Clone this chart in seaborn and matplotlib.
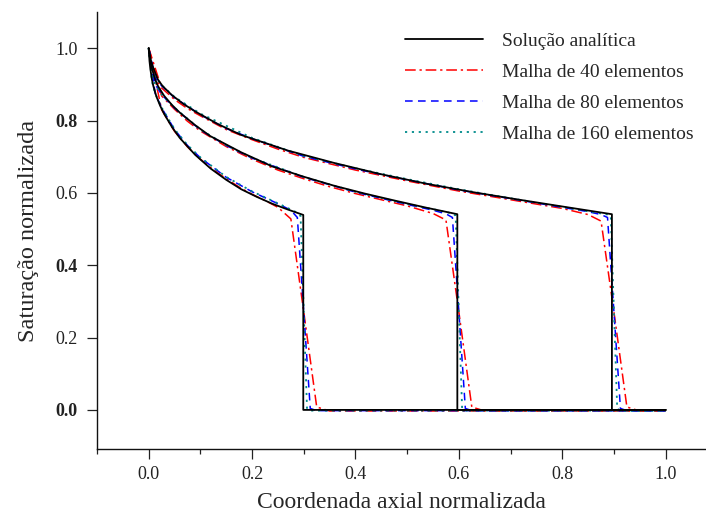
import numpy as np
import pandas as pd
import matplotlib
matplotlib.use("Agg")
import matplotlib.pyplot as plt
import seaborn as sns
from matplotlib.lines import Line2D
from matplotlib.ticker import MultipleLocator

# ---------------- data ----------------
labels = ["Solução analítica", "Malha de 40 elementos",
          "Malha de 80 elementos", "Malha de 160 elementos"]

# Analytical solution, three times (fronts near 0.3, 0.6, 0.9)
ana_A_x = [0, 0.0015, 0.003, 0.006, 0.009, 0.015, 0.0224, 0.03, 0.045, 0.06, 0.09,
           0.12, 0.15, 0.179, 0.209, 0.239, 0.269, 0.299, 0.299, 1.0]
ana_A_s = [1.0, 0.965, 0.945, 0.915, 0.895, 0.866, 0.84, 0.818, 0.782, 0.752, 0.705,
           0.667, 0.636, 0.61, 0.589, 0.570, 0.554, 0.539, 0.0, 0.0]
ana_B_x = [0, 0.003, 0.006, 0.012, 0.018, 0.03, 0.045, 0.06, 0.09, 0.119, 0.179,
           0.239, 0.299, 0.358, 0.418, 0.478, 0.537, 0.597, 0.597, 1.0]
ana_B_s = [1.0, 0.965, 0.945, 0.915, 0.895, 0.868, 0.843, 0.822, 0.787, 0.757, 0.712,
           0.673, 0.645, 0.62, 0.598, 0.578, 0.559, 0.541, 0.0, 0.0]
ana_C_x = [0, 0.0045, 0.009, 0.018, 0.027, 0.045, 0.067, 0.09, 0.134, 0.179, 0.269,
           0.358, 0.448, 0.538, 0.627, 0.717, 0.806, 0.896, 0.896, 1.0]
ana_C_s = [1.0, 0.965, 0.945, 0.913, 0.895, 0.87, 0.846, 0.825, 0.79, 0.76, 0.717,
           0.683, 0.652, 0.625, 0.602, 0.581, 0.561, 0.541, 0.0, 0.0]

# Mesh of 40 elements
m40_A_x = [0, 0.025, 0.05, 0.075, 0.1, 0.125, 0.15, 0.175, 0.2, 0.225, 0.25, 0.275,
           0.3, 0.325, 0.35, 1.0]
m40_A_s = [1.0, 0.83, 0.77, 0.727, 0.693, 0.664, 0.639, 0.616, 0.596, 0.579, 0.56,
           0.528, 0.27, 0.008, -0.003, -0.003]
m40_B_x = [0, 0.025, 0.05, 0.075, 0.1, 0.15, 0.2, 0.25, 0.3, 0.35, 0.4, 0.45, 0.5,
           0.55, 0.575, 0.6, 0.625, 0.65, 1.0]
m40_B_s = [1.0, 0.868, 0.831, 0.798, 0.771, 0.728, 0.693, 0.663, 0.639, 0.617, 0.598,
           0.581, 0.564, 0.543, 0.525, 0.27, 0.008, -0.003, -0.003]
m40_C_x = [0, 0.025, 0.05, 0.075, 0.1, 0.15, 0.2, 0.25, 0.3, 0.4, 0.5, 0.6, 0.7, 0.8,
           0.85, 0.875, 0.9, 0.925, 0.95, 1.0]
m40_C_s = [1.0, 0.89, 0.858, 0.833, 0.813, 0.775, 0.747, 0.721, 0.698, 0.663, 0.633,
           0.605, 0.581, 0.557, 0.54, 0.522, 0.27, 0.008, -0.003, -0.003]

# Mesh of 80 elements
m80_A_x = [0, 0.0125, 0.025, 0.05, 0.075, 0.1, 0.15, 0.2, 0.25, 0.275, 0.2875, 0.3,
           0.3125, 0.325, 1.0]
m80_A_s = [1.0, 0.875, 0.835, 0.775, 0.731, 0.697, 0.643, 0.603, 0.57, 0.552, 0.532,
           0.27, 0.004, -0.002, -0.002]
m80_B_x = [0, 0.0125, 0.025, 0.05, 0.1, 0.15, 0.2, 0.3, 0.4, 0.5, 0.55, 0.575, 0.5875,
           0.6, 0.6125, 0.625, 1.0]
m80_B_s = [1.0, 0.9, 0.872, 0.834, 0.774, 0.731, 0.696, 0.643, 0.602, 0.568, 0.552,
           0.542, 0.532, 0.27, 0.004, -0.002, -0.002]
m80_C_x = [0, 0.0125, 0.025, 0.05, 0.1, 0.15, 0.2, 0.3, 0.4, 0.5, 0.6, 0.7, 0.8, 0.85,
           0.875, 0.8875, 0.9, 0.9125, 0.925, 1.0]
m80_C_s = [1.0, 0.918, 0.896, 0.863, 0.816, 0.778, 0.75, 0.701, 0.666, 0.636, 0.608,
           0.584, 0.56, 0.548, 0.54, 0.532, 0.27, 0.004, -0.002, -0.002]

# Mesh of 160 elements
m160_A_x = [0, 0.00625, 0.0125, 0.025, 0.05, 0.075, 0.1, 0.15, 0.2, 0.25, 0.275,
            0.2875, 0.29375, 0.3, 0.30625, 0.3125, 1.0]
m160_A_s = [1.0, 0.908, 0.875, 0.836, 0.776, 0.732, 0.698, 0.644, 0.604, 0.571, 0.554,
            0.545, 0.536, 0.27, 0.003, -0.002, -0.002]
m160_B_x = [0, 0.00625, 0.0125, 0.025, 0.05, 0.1, 0.15, 0.2, 0.3, 0.4, 0.5, 0.55,
            0.575, 0.5875, 0.59375, 0.6, 0.60625, 0.6125, 1.0]
m160_B_s = [1.0, 0.928, 0.9, 0.872, 0.835, 0.775, 0.732, 0.697, 0.644, 0.603, 0.569,
            0.555, 0.547, 0.543, 0.537, 0.27, 0.003, -0.002, -0.002]
m160_C_x = [0, 0.00625, 0.0125, 0.025, 0.05, 0.1, 0.2, 0.3, 0.4, 0.5, 0.6, 0.7, 0.8,
            0.85, 0.875, 0.8875, 0.89375, 0.9, 0.90625, 0.9125, 1.0]
m160_C_s = [1.0, 0.942, 0.92, 0.898, 0.865, 0.819, 0.752, 0.702, 0.668, 0.638, 0.61,
            0.585, 0.561, 0.549, 0.543, 0.54, 0.536, 0.27, 0.003, -0.002, -0.002]

x_ticks = [0.0, 0.2, 0.4, 0.6, 0.8, 1.0]
y_ticks = [0.0, 0.2, 0.4, 0.6, 0.8, 1.0]
x_tick_labels = ["0.0", "0.2", "0.4", "0.6", "0.8", "1.0"]
y_tick_labels = ["0.0", "0.2", "0.4", "0.6", "0.8", "1.0"]

series = {
    labels[0]: [(ana_A_x, ana_A_s), (ana_B_x, ana_B_s), (ana_C_x, ana_C_s)],
    labels[1]: [(m40_A_x, m40_A_s), (m40_B_x, m40_B_s), (m40_C_x, m40_C_s)],
    labels[2]: [(m80_A_x, m80_A_s), (m80_B_x, m80_B_s), (m80_C_x, m80_C_s)],
    labels[3]: [(m160_A_x, m160_A_s), (m160_B_x, m160_B_s), (m160_C_x, m160_C_s)],
}

rows = []
for name, curves in series.items():
    for k, (xs, ss) in enumerate(curves):
        for i, (xv, sv) in enumerate(zip(xs, ss)):
            rows.append({"x": xv, "S": sv, "serie": name, "curva": k, "ordem": i})
df = pd.DataFrame(rows)

# ---------------- style ----------------
sns.set_style("ticks")
plt.rcParams["font.family"] = ["Liberation Serif", "DejaVu Serif"]

colors = {labels[0]: "#000000", labels[1]: "#ff0000",
          labels[2]: "#0000ff", labels[3]: "#008b8b"}
dashes = {labels[0]: (None, None), labels[1]: (7, 2.5, 1.5, 2.5),
          labels[2]: (5, 3.5), labels[3]: (1.2, 2.6)}
widths = {labels[0]: 1.3, labels[1]: 1.1, labels[2]: 1.1, labels[3]: 1.3}
zorders = {labels[0]: 5, labels[1]: 3, labels[2]: 3.5, labels[3]: 4}

fig = plt.figure(figsize=(7.06, 5.15), dpi=100)
ax = fig.add_axes([0.1374, 0.1282, 0.8626, 0.8485])

draw_order = [labels[1], labels[2], labels[3], labels[0]]
for name in draw_order:
    sub = df[df["serie"] == name]
    sns.lineplot(data=sub, x="x", y="S", units="curva", estimator=None, sort=False,
                 color=colors[name], linewidth=widths[name], ax=ax, legend=False,
                 zorder=zorders[name])
# apply dash styles
lines = ax.get_lines()
idx = 0
for name in draw_order:
    for _ in range(3):
        ln = lines[idx]
        d = dashes[name]
        if d[0] is not None:
            ln.set_dashes(d)
        idx += 1

ax.set_xlim(-0.1, 1.078)
ax.set_ylim(-0.108, 1.1)
ax.set_xticks(x_ticks)
ax.set_xticklabels(x_tick_labels)
ax.set_yticks(y_ticks)
ax.set_yticklabels(y_tick_labels)
ax.xaxis.set_minor_locator(MultipleLocator(0.1))
ax.tick_params(axis="both", which="major", direction="out", length=7, width=0.9,
               labelsize=13, colors="#222222")
ax.tick_params(axis="x", which="minor", direction="out", length=3.5, width=0.9,
               colors="#222222")
ax.tick_params(axis="x", which="major", pad=5)
ax.tick_params(axis="y", which="major", pad=7)
for lab in ax.get_yticklabels():
    if lab.get_text() in ("0.0", "0.4", "0.8"):
        lab.set_fontweight("bold")

for sp in ["top", "right"]:
    ax.spines[sp].set_visible(False)
for sp in ["left", "bottom"]:
    ax.spines[sp].set_color("#111111")
    ax.spines[sp].set_linewidth(1.0)

ax.set_xlabel("Coordenada axial normalizada", fontsize=17, labelpad=7)
ax.set_ylabel("Saturação normalizada", fontsize=17.5, labelpad=12)

handles = [Line2D([0], [0], color=colors[n], linewidth=widths[n],
                  dashes=(dashes[n] if dashes[n][0] is not None else (None, None)))
           for n in labels]
ax.legend(handles, labels, loc="upper right", bbox_to_anchor=(1.008, 0.993),
          frameon=False, fontsize=14, handlelength=4.0, handletextpad=0.95,
          labelspacing=0.68)

fig.savefig("out.png", dpi=100)
